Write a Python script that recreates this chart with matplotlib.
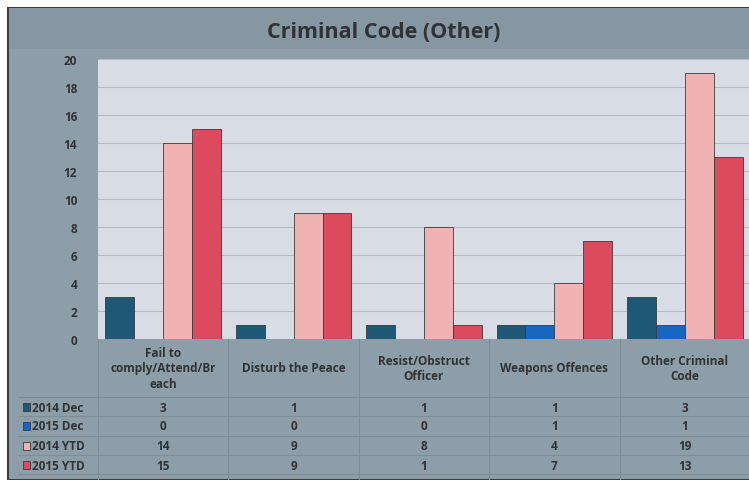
import matplotlib.pyplot as plt
import matplotlib.transforms as mtransforms
from matplotlib.patches import Rectangle
import numpy as np

# data
categories = ['Fail to\ncomply/Attend/Br\neach', 'Disturb the Peace',
              'Resist/Obstruct\nOfficer', 'Weapons Offences', 'Other Criminal\nCode']
series_names = ['2014 Dec', '2015 Dec', '2014 YTD', '2015 YTD']
dec_2014 = [3, 1, 1, 1, 3]
dec_2015 = [0, 0, 0, 1, 1]
ytd_2014 = [14, 9, 8, 4, 19]
ytd_2015 = [15, 9, 1, 7, 13]
colors = ['#1d5876', '#1767c2', '#f1b2b4', '#dc4a5e']

plt.rcParams['font.family'] = ['Open Sans', 'DejaVu Sans']
plt.rcParams['font.weight'] = 'bold'

W, H = 749, 481
fig = plt.figure(figsize=(W / 100, H / 100), dpi=100)
fig.patch.set_facecolor('white')

def fy(py):  # pixel row -> figure fraction
    return 1 - py / H

# chart background + title band
fig.patches.append(Rectangle((8 / W, 0), 1, fy(9), transform=fig.transFigure,
                             facecolor='#8e9ea8', edgecolor='#3a3f44', lw=1.5, zorder=-3))
fig.patches.append(Rectangle((9 / W, fy(50)), 1, 41 / H, transform=fig.transFigure,
                             facecolor='#8797a1', edgecolor='none', zorder=-2))
fig.text(384 / W, fy(33), 'Criminal Code (Other)', ha='center', va='center',
         fontsize=15.5, fontweight='bold', color='#2f3336')

ax = fig.add_axes([98 / W, fy(340), 652 / W, 280 / H])
ax.set_facecolor('#d8dde5')

data = [dec_2014, dec_2015, ytd_2014, ytd_2015]
x = np.arange(len(categories))
w = 0.222
for i, (vals, c) in enumerate(zip(data, colors)):
    ax.bar(x + (i - 1.5) * w, vals, w, color=c, edgecolor='#3b3b3b', lw=0.6, zorder=3)

ax.set_xlim(-0.5, len(categories) - 0.5)
ax.set_ylim(0, 20)
ax.set_yticks(np.arange(0, 21, 2))
ax.yaxis.grid(True, color='#b5bcc6', lw=0.8)
ax.set_axisbelow(True)
ax.tick_params(axis='y', length=0, pad=15, labelsize=8.5, labelcolor='#2f3336')
ax.tick_params(axis='x', length=0, labelbottom=False)
for s in ax.spines.values():
    s.set_visible(False)

# data table under the axes
tr = mtransforms.blended_transform_factory(ax.transData, fig.transFigure)
line_c = '#7f8d96'
for b in np.arange(-0.5, len(categories), 1.0):
    ax.plot([b, b], [0, fy(340)], transform=tr, color=line_c, lw=0.8, clip_on=False)
for py in [398, 417, 437, 456, 475]:
    fig.lines.append(plt.Line2D([18 / W, 1], [fy(py), fy(py)], transform=fig.transFigure,
                                color=line_c, lw=0.8))

for xi, cat in zip(x, categories):
    ax.text(xi, fy(369), cat, transform=tr, ha='center', va='center',
            fontsize=8.5, fontweight='bold', color='#2f3336', linespacing=1.25)

row_y = [408, 427, 447, 466]
for name, vals, c, py in zip(series_names, data, colors, row_y):
    fig.patches.append(Rectangle((23 / W, fy(py + 4)), 7 / W, 8 / H, transform=fig.transFigure,
                                 facecolor=c, edgecolor='#3b3b3b', lw=0.6))
    fig.text(32 / W, fy(py), name, ha='left', va='center', fontsize=8.5,
             fontweight='bold', color='#2f3336')
    for xi, v in zip(x, vals):
        ax.text(xi, fy(py), str(v), transform=tr, ha='center', va='center',
                fontsize=8.5, fontweight='bold', color='#2f3336')

fig.savefig('out.png', dpi=100, facecolor=fig.get_facecolor())
